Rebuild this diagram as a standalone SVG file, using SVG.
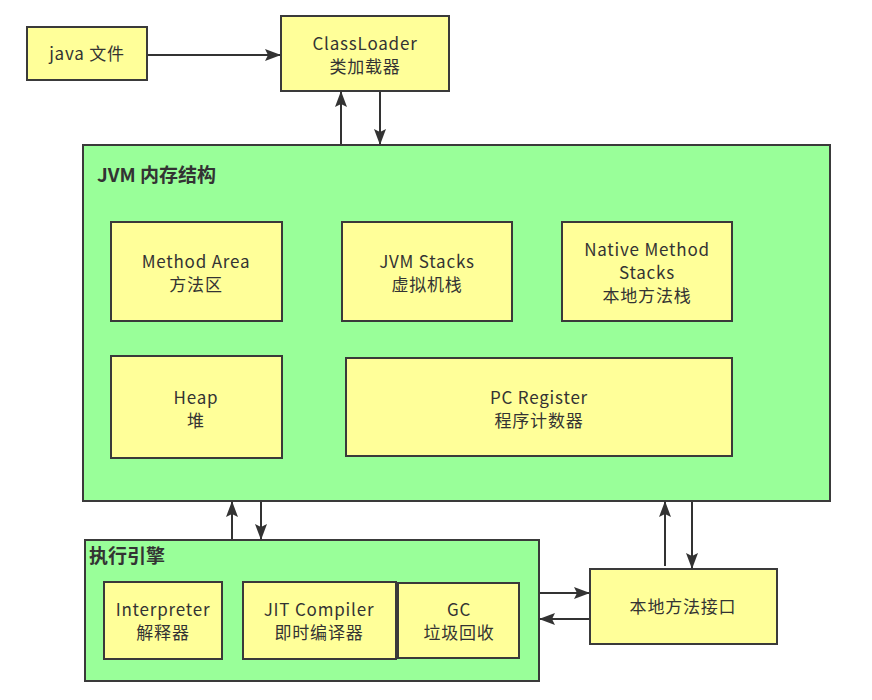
<svg xmlns="http://www.w3.org/2000/svg" width="872" height="700" viewBox="0 0 872 700">
<defs>
<marker id="ah2" viewBox="0 0 16 12" refX="15" refY="6" markerWidth="16" markerHeight="12" markerUnits="userSpaceOnUse" orient="auto">
<path d="M0,0 L16,6 L0,12 L3,6 Z" fill="#333"/>
</marker>
</defs>
<style>
.y{fill:#ffff99;stroke:#3a3a3a;stroke-width:2}
.g{fill:#99ff99;stroke:#3a3a3a;stroke-width:2}
.t{font-family:"Noto Sans CJK SC","Noto Sans",sans-serif;font-size:17px;letter-spacing:0.8px;fill:#333;text-anchor:middle}
.b{font-family:"Noto Sans CJK SC","Noto Sans",sans-serif;font-size:19px;font-weight:bold;fill:#333}
.c{fill:none;stroke:#333;stroke-width:2;marker-end:url(#ah2)}
</style>
<rect width="872" height="700" fill="#fff"/>
<g id="java">
<rect class="y" x="27" y="27" width="120" height="53"/>
<text class="t" x="87" y="60">java 文件</text>
</g>
<g id="classloader">
<rect class="y" x="281" y="16" width="168" height="75"/>
<text class="t" x="365" y="50">ClassLoader</text>
<text class="t" x="365" y="73">类加载器</text>
</g>
<g id="jvm">
<rect class="g" x="83" y="145" width="747" height="356"/>
<text class="b" x="97" y="182">JVM 内存结构</text>
</g>
<g id="method-area">
<rect class="y" x="111" y="222" width="171" height="99"/>
<text class="t" x="196" y="268">Method Area</text>
<text class="t" x="196" y="291">方法区</text>
</g>
<g id="jvm-stacks">
<rect class="y" x="342" y="222" width="170" height="99"/>
<text class="t" x="427" y="268">JVM Stacks</text>
<text class="t" x="427" y="291">虚拟机栈</text>
</g>
<g id="native-stacks">
<rect class="y" x="562" y="222" width="170" height="99"/>
<text class="t" x="647" y="256">Native Method</text>
<text class="t" x="647" y="279">Stacks</text>
<text class="t" x="647" y="302">本地方法栈</text>
</g>
<g id="heap">
<rect class="y" x="111" y="356" width="171" height="102"/>
<text class="t" x="196" y="404">Heap</text>
<text class="t" x="196" y="427">堆</text>
</g>
<g id="pc-register">
<rect class="y" x="346" y="358" width="386" height="98"/>
<text class="t" x="539" y="404">PC Register</text>
<text class="t" x="539" y="427">程序计数器</text>
</g>
<g id="exec-engine">
<rect class="g" x="85" y="540" width="454" height="141"/>
<text class="b" x="89" y="563">执行引擎</text>
</g>
<g id="interpreter">
<rect class="y" x="104" y="582" width="118" height="77"/>
<text class="t" x="163" y="616">Interpreter</text>
<text class="t" x="163" y="639">解释器</text>
</g>
<g id="jit">
<rect class="y" x="243" y="582" width="153" height="77"/>
<text class="t" x="319" y="616">JIT Compiler</text>
<text class="t" x="319" y="639">即时编译器</text>
</g>
<g id="gc">
<rect class="y" x="398" y="583" width="121" height="75"/>
<text class="t" x="459" y="616">GC</text>
<text class="t" x="459" y="639">垃圾回收</text>
</g>
<g id="native-interface">
<rect class="y" x="590" y="569" width="187" height="75"/>
<text class="t" x="683" y="613">本地方法接口</text>
</g>
<g id="connectors">
<line class="c" x1="148" y1="55" x2="280" y2="55"/>
<line class="c" x1="341" y1="144" x2="341" y2="92"/>
<line class="c" x1="380" y1="92" x2="380" y2="144"/>
<line class="c" x1="232" y1="539" x2="232" y2="502"/>
<line class="c" x1="261" y1="502" x2="261" y2="539"/>
<line class="c" x1="665" y1="566" x2="665" y2="502"/>
<line class="c" x1="692" y1="502" x2="692" y2="568"/>
<line class="c" x1="540" y1="593" x2="589" y2="593"/>
<line class="c" x1="589" y1="619" x2="540" y2="619"/>
</g>
</svg>
